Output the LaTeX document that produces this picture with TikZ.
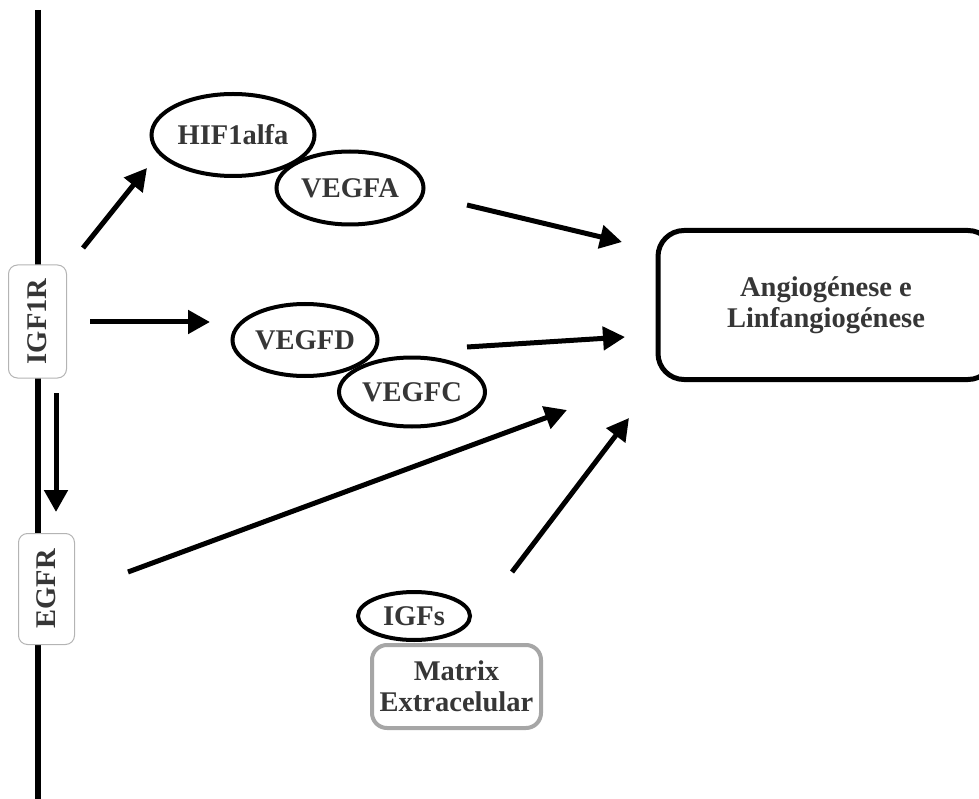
\documentclass[tikz,border=0pt]{standalone}
\usepackage{fontspec}
\setmainfont{Liberation Serif}
\usetikzlibrary{arrows.meta,shapes.geometric}
\definecolor{labelgray}{HTML}{363636}
\definecolor{receptorline}{HTML}{B4B4B4}
\definecolor{matrixline}{HTML}{A6A6A6}
\tikzset{
  lbl/.style={font=\fontsize{28.5}{31}\selectfont\bfseries, text=labelgray, align=center},
  factor/.style={ellipse, draw=black, line width=4pt, fill=white, inner sep=0pt, lbl},
  receptor/.style={rectangle, rounded corners=9pt, draw=receptorline, line width=1pt, fill=white,
    minimum width=57pt, inner sep=0pt, lbl},
  outcome/.style={rectangle, rounded corners=26pt, draw=black, line width=5pt, fill=white, lbl},
  matrixbox/.style={rectangle, rounded corners=15pt, draw=matrixline, line width=4pt, fill=white, lbl},
  signal/.style={line width=5pt, -{Triangle[length=22pt,width=23pt]}},
}
\begin{document}
\begin{tikzpicture}[x=1pt,y=-1pt]
  \clip (0,0) rectangle (979,799);
  % cell membrane
  \coordinate (memtop) at (38,10);
  \coordinate (membot) at (38,805);
  \draw[line width=6pt] (memtop) -- (membot);

  % receptors on the membrane
  \node[receptor, minimum width=58pt, minimum height=113pt] (igf1r) at (37.5,321.5) {};
  \node[lbl, rotate=90] (igf1rtext) at (igf1r.center) {IGF1R};
  \node[receptor, minimum width=56pt, minimum height=111pt] (egfr) at (46.5,589) {};
  \node[lbl, rotate=90] (egfrtext) at (egfr.center) {EGFR};

  % growth factors
  \node[factor, minimum width=163pt, minimum height=82pt] (hif) at (233,135) {HIF1alfa};
  \node[factor, minimum width=147pt, minimum height=73pt] (vegfa) at (350,188) {VEGFA};
  \node[factor, minimum width=145pt, minimum height=72pt] (vegfd) at (305,340) {VEGFD};
  \node[factor, minimum width=146pt, minimum height=69pt] (vegfc) at (412,392) {VEGFC};
  \node[factor, minimum width=112pt, minimum height=48pt] (igfs) at (414,616) {IGFs};

  % extracellular matrix
  \node[matrixbox, minimum width=169pt, minimum height=83pt] (ecm) at (456.5,686.5) {Matrix\\Extracelular};

  % outcome
  \node[outcome, minimum width=336pt, minimum height=149pt] (angio) at (826,305)
    {Angiogénese e\\Linfangiogénese};

  % arrow end points
  \coordinate (a1s) at (83,248);  \coordinate (a1e) at (147,168);
  \coordinate (a2s) at (90,322);  \coordinate (a2e) at (210,322);
  \coordinate (a3s) at (56,393);  \coordinate (a3e) at (56,512);
  \coordinate (a4s) at (467,205); \coordinate (a4e) at (622,242);
  \coordinate (a5s) at (467,347); \coordinate (a5e) at (625,337);
  \coordinate (a6s) at (128,572); \coordinate (a6e) at (567,410);
  \coordinate (a7s) at (512,572); \coordinate (a7e) at (629,418);

  % signalling arrows
  \draw[signal] (a1s) -- (a1e);
  \draw[signal] (a2s) -- (a2e);
  \draw[signal] (a3s) -- (a3e);
  \draw[signal] (a4s) -- (a4e);
  \draw[signal] (a5s) -- (a5e);
  \draw[signal] (a6s) -- (a6e);
  \draw[signal] (a7s) -- (a7e);
\end{tikzpicture}
\end{document}
